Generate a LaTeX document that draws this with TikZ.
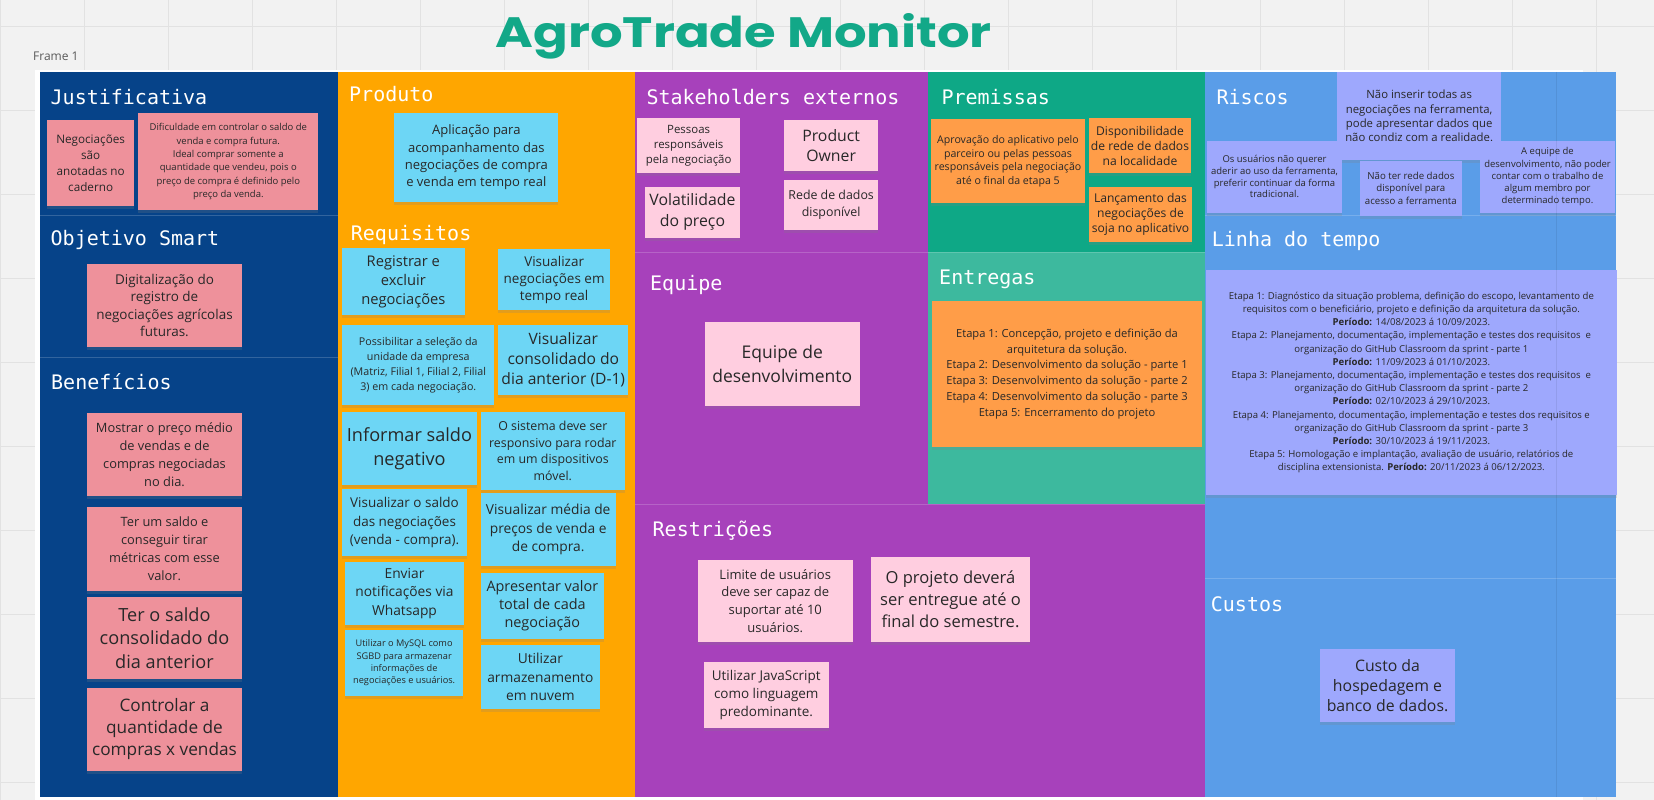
\documentclass[tikz,border=0pt]{standalone}
\usepackage{fontspec}
\usepackage{graphicx}
\usetikzlibrary{shadows}
\newfontfamily\notefont{Open Sans}
\newfontfamily\hdfont{DejaVu Sans Mono}
\newfontfamily\titlefont{Poppins}
\definecolor{canvas}{RGB}{242,242,242}
\definecolor{gridc}{RGB}{226,226,226}
\definecolor{cBlueD}{RGB}{6,67,137}
\definecolor{cOrange}{RGB}{255,166,0}
\definecolor{cPurple}{RGB}{167,65,187}
\definecolor{cTeal}{RGB}{14,168,134}
\definecolor{cTealL}{RGB}{61,185,158}
\definecolor{cBlue}{RGB}{90,157,232}
\definecolor{nPink}{RGB}{238,145,155}
\definecolor{nCyan}{RGB}{109,214,245}
\definecolor{nLPink}{RGB}{255,206,224}
\definecolor{nOrange}{RGB}{255,157,72}
\definecolor{nLav}{RGB}{158,168,253}
\definecolor{notetext}{RGB}{40,40,40}
\definecolor{titleteal}{RGB}{18,168,136}
\newcommand\sticky[7]{\node[note,#1,minimum width={#5-(#3)},minimum height={#6-(#4)}] (#2) at ({(#3+#5)/2},{(#4+#6)/2}) {#7};}
\begin{document}
\begin{tikzpicture}[x=1pt,y=-1pt,
  gridline/.style={gridc,line width=1.2pt},
  divider/.style={white,opacity=0.18,line width=1pt},
  note/.style={rectangle,inner sep=1pt,align=center,text=notetext,
    drop shadow={shadow xshift=0pt,shadow yshift=-3pt,opacity=0.22}},
  fs/.style 2 args={font={\pgfmathsetmacro\fsz{0.93*#1}\notefont\fontsize{\fsz}{#2}\selectfont}},
  pk/.style={fill=nPink},
  cy/.style={fill=nCyan},
  lp/.style={fill=nLPink},
  og/.style={fill=nOrange},
  lv/.style={fill=nLav},
  hd/.style={anchor=base west,inner sep=0pt,text=white,font=\hdfont\fontsize{20}{24}\selectfont}]
\useasboundingbox (0,0) rectangle (1654,800);
\fill[canvas] (0,0) rectangle (1654,800);
\foreach \k in {0,...,19} \draw[gridline] ({0.7+84*\k},0) -- ({0.7+84*\k},800);
\foreach \k in {0,...,9} \draw[gridline] (0,{26.3+84*\k}) -- (1654,{26.3+84*\k});
\fill[white] (35,70) rectangle (1583,800);
% columns
\fill[cBlueD] (39.5,71.7) rectangle (337.5,797);
\fill[cOrange] (337.5,71.7) rectangle (635,797);
\fill[cPurple] (635,71.7) rectangle (928,797);
\fill[cPurple] (928,504) rectangle (1204.6,797);
\fill[cTeal] (928,71.7) rectangle (1204.6,252);
\fill[cTealL] (928,252) rectangle (1204.6,504);
\fill[cBlue] (1204.6,71.7) rectangle (1616,797);
\draw[divider] (39.5,215) -- (337.5,215);
\draw[divider] (39.5,357) -- (337.5,357);
\draw[divider] (635,252) -- (1204.6,252);
\draw[divider] (635,504) -- (1204.6,504);
\draw[divider] (1204.6,215) -- (1616,215);
\draw[divider] (1204.6,578) -- (1616,578);
% header texts
\node[anchor=base west,inner sep=0pt,text=black!65,font=\notefont\fontsize{12}{14}\selectfont] (framelabel) at (33,61) {Frame 1};
\node[anchor=base,text=titleteal,inner sep=0pt] (title) at (743.7,47.5) {\resizebox{496pt}{34pt}{\titlefont\bfseries AgroTrade Monitor}};
% section titles
\node[hd] (tJus) at (50.5,104.5) {Justificativa};
\node[hd] (tObj) at (50.5,245) {Objetivo Smart};
\node[hd] (tBen) at (51,389.3) {Benefícios};
\node[hd] (tProd) at (349,101.7) {Produto};
\node[hd] (tReq) at (350.7,240) {Requisitos};
\node[hd] (tStk) at (646.3,104.3) {Stakeholders externos};
\node[hd] (tEq) at (650,290) {Equipe};
\node[hd] (tRes) at (652.5,536.5) {Restrições};
\node[hd] (tPre) at (941.3,104.3) {Premissas};
\node[hd] (tEnt) at (939,284.3) {Entregas};
\node[hd] (tRis) at (1216.3,104.3) {Riscos};
\node[hd] (tLin) at (1211.7,246.7) {Linha do tempo};
\node[hd] (tCus) at (1210.7,611.7) {Custos};
% Justificativa / Objetivo / Beneficios
\sticky{pk,fs={12.6}{16}}{jus1}{47.3}{120}{134}{205.7}{Negociações\\são\\anotadas no\\caderno}
\sticky{pk,fs={10.2}{13.3}}{jus2}{138.3}{113.3}{318.3}{210}{Dificuldade em controlar o saldo de\\venda e compra futura.\\Ideal comprar somente a\\quantidade que vendeu, pois o\\preço de compra é definido pelo\\preço da venda.}
\sticky{pk,fs={14.5}{17.5}}{obj1}{87.3}{264}{241.7}{346.7}{Digitalização do\\registro de\\negociações agrícolas\\futuras.}
\sticky{pk,fs={13.8}{18}}{ben1}{87.3}{412.7}{241.7}{496}{Mostrar o preço médio\\de vendas e de\\compras negociadas\\no dia.}
\sticky{pk,fs={13.8}{18}}{ben2}{87.3}{507.3}{241.7}{590.7}{Ter um saldo e\\conseguir tirar\\métricas com esse\\valor.}
\sticky{pk,fs={19.5}{23.3}}{ben3}{87.3}{596.7}{241.7}{679.3}{Ter o saldo\\consolidado do\\dia anterior}
\sticky{pk,fs={18.5}{22}}{ben4}{87.3}{687.7}{241.7}{771}{Controlar a\\quantidade de\\compras x vendas}
% Produto / Requisitos
\sticky{cy,fs={14}{17.3}}{prod}{394.3}{113.3}{558.3}{201.7}{Aplicação para\\acompanhamento das\\negociações de compra\\e venda em tempo real}
\sticky{cy,fs={15.8}{19}}{r1}{341.7}{248.3}{465}{315}{Registrar e\\excluir\\negociações}
\sticky{cy,fs={14.5}{17}}{r2}{498.3}{249}{610}{310}{Visualizar\\negociações em\\tempo real}
\sticky{cy,fs={11.5}{15}}{r3}{342.3}{325}{494.3}{405}{Possibilitar a seleção da\\unidade da empresa\\(Matriz, Filial 1, Filial 2, Filial\\3) em cada negociação.}
\sticky{cy,fs={16.8}{20}}{r4}{498.3}{325}{628.3}{395}{Visualizar\\consolidado do\\dia anterior (D-1)}
\sticky{cy,fs={19.5}{24}}{r5}{342.3}{411.7}{476.7}{485}{Informar saldo\\negativo}
\sticky{cy,fs={13.3}{16.7}}{r6}{480.7}{411.7}{625}{490}{O sistema deve ser\\responsivo para rodar\\em um dispositivos\\móvel.}
\sticky{cy,fs={14.5}{18.3}}{r7}{342.3}{489.3}{466.7}{555.7}{Visualizar o saldo\\das negociações\\(venda - compra).}
\sticky{cy,fs={14.8}{18.3}}{r8}{480.7}{493.3}{615.7}{565.7}{Visualizar média de\\preços de venda e\\de compra.}
\sticky{cy,fs={14.8}{18.3}}{r9}{345}{561.7}{464}{625}{Enviar\\notificações via\\Whatsapp}
\sticky{cy,fs={15.5}{18.3}}{r10}{480.7}{572.7}{604}{639}{Apresentar valor\\total de cada\\negociação}
\sticky{cy,fs={9.9}{12.3}}{r11}{345}{630}{463.3}{695.7}{Utilizar o MySQL como\\SGBD para armazenar\\informações de\\negociações e usuários.}
\sticky{cy,fs={14.8}{18.3}}{r12}{480.7}{645}{600}{709}{Utilizar\\armazenamento\\em nuvem}
% Stakeholders
\sticky{lp,fs={12.3}{15}}{s1}{637.3}{118.3}{740}{172.7}{Pessoas\\responsáveis\\pela negociação}
\sticky{lp,fs={17}{20.7}}{s2}{784}{120}{878.3}{171}{Product\\Owner}
\sticky{lp,fs={17}{20.7}}{s3}{645}{186.7}{740}{237.7}{Volatilidade\\do preço}
\sticky{lp,fs={13.3}{16.7}}{s4}{784}{180}{878.3}{230}{Rede de dados\\disponível}
% Equipe
\sticky{lp,fs={18.8}{24}}{eq1}{705}{322}{859.5}{406}{Equipe de\\desenvolvimento}
% Restricoes
\sticky{lp,fs={14}{17.6}}{rs1}{698}{559.5}{852.5}{642}{Limite de usuários\\deve ser capaz de\\suportar até 10\\usuários.}
\sticky{lp,fs={17.8}{21.8}}{rs2}{871}{557}{1030}{642}{O projeto deverá\\ser entregue até o\\final do semestre.}
\sticky{lp,fs={14.5}{18}}{rs3}{704}{662}{828.5}{728}{Utilizar JavaScript\\como linguagem\\predominante.}
% Premissas
\sticky{og,fs={11.4}{13.8}}{p1}{931}{119.3}{1085}{203.3}{Aprovação do aplicativo pelo\\parceiro ou pelas pessoas\\responsáveis pela negociação\\até o final da etapa 5}
\sticky{og,fs={13}{15}}{p2}{1089.3}{118.3}{1190.7}{173.3}{Disponibilidade\\de rede de dados\\na localidade}
\sticky{og,fs={13}{15}}{p3}{1089.3}{187.3}{1191.7}{241.7}{Lançamento das\\negociações de\\soja no aplicativo}
% Entregas
\sticky{og,fs={12}{15.8}}{ent1}{932.3}{301}{1201.7}{446.7}{Etapa 1: Concepção, projeto e definição da\\arquitetura da solução.\\Etapa 2: Desenvolvimento da solução - parte 1\\Etapa 3: Desenvolvimento da solução - parte 2\\Etapa 4: Desenvolvimento da solução - parte 3\\Etapa 5: Encerramento do projeto}
% Riscos
\sticky{lv,fs={12.2}{14.4}}{k1}{1337.3}{72.3}{1501}{160}{Não inserir todas as\\negociações na ferramenta,\\pode apresentar dados que\\não condiz com a realidade.}
\sticky{lv,fs={10.2}{11.8}}{k2}{1207.3}{140.7}{1341.7}{212.7}{Os usuários não querer\\aderir ao uso da ferramenta,\\preferir continuar da forma\\tradicional.}
\sticky{lv,fs={10.4}{12.3}}{k3}{1360}{160.7}{1461.7}{215.7}{Não ter rede dados\\disponível para\\acesso a ferramenta}
\sticky{lv,fs={10.2}{12.1}}{k4}{1480}{140.7}{1615}{212.7}{A equipe de\\desenvolvimento, não poder\\contar com o trabalho de\\algum membro por\\determinado tempo.}
% Linha do tempo
\sticky{lv,fs={10.3}{13.2}}{lt1}{1206}{270}{1616.7}{495}{Etapa 1: Diagnóstico da situação problema, definição do escopo, levantamento de\\requisitos com o beneficiário, projeto e definição da arquitetura da solução.\\\textbf{Período:} 14/08/2023 á 10/09/2023.\\Etapa 2: Planejamento, documentação, implementação e testes dos requisitos\ \ e\\organização do GitHub Classroom da sprint - parte 1\\\textbf{Período:} 11/09/2023 á 01/10/2023.\\Etapa 3: Planejamento, documentação, implementação e testes dos requisitos\ \ e\\organização do GitHub Classroom da sprint - parte 2\\\textbf{Período:} 02/10/2023 á 29/10/2023.\\Etapa 4: Planejamento, documentação, implementação e testes dos requisitos e\\organização do GitHub Classroom da sprint - parte 3\\\textbf{Período:} 30/10/2023 á 19/11/2023.\\Etapa 5: Homologação e implantação, avaliação de usuário, relatórios de\\disciplina extensionista. \textbf{Período:} 20/11/2023 á 06/12/2023.}
% Custos
\sticky{lv,fs={17}{20.3}}{c1}{1320}{649.3}{1455}{721.7}{Custo da\\hospedagem e\\banco de dados.}
% frame edge line
\draw[black,opacity=0.07,line width=1pt] (1556,71.7) -- (1556,797);
\end{tikzpicture}
\end{document}
